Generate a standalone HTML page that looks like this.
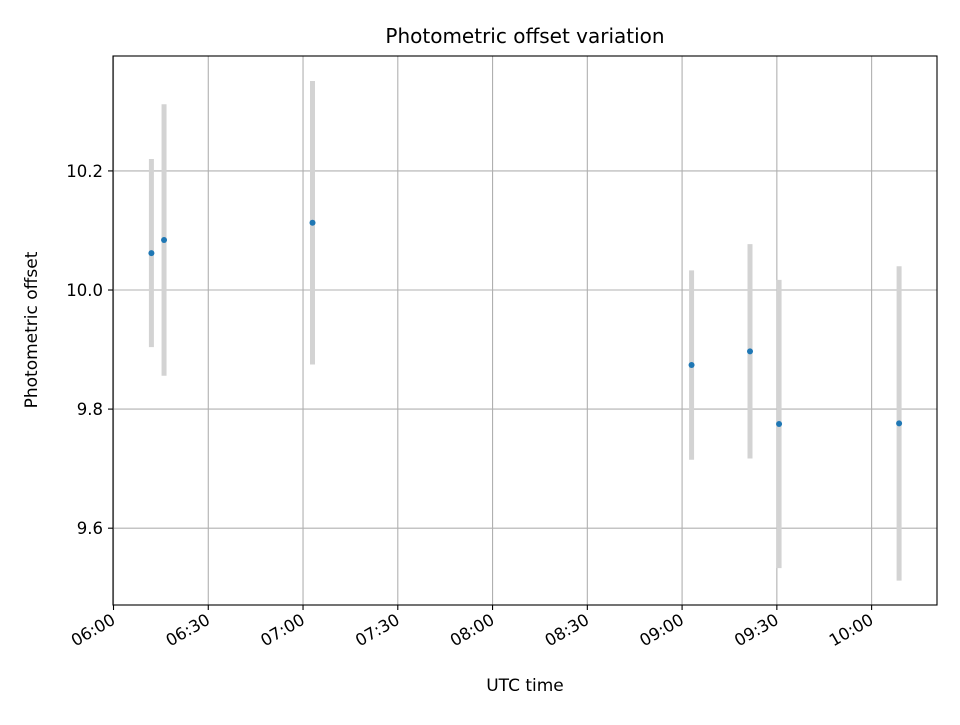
<!DOCTYPE html>
<html><head><meta charset="utf-8"><style>
body{margin:0;background:#fff;font-family:"Liberation Sans","DejaVu Sans",sans-serif}
</style></head><body>
<svg id="chart" width="960" height="720" xmlns="http://www.w3.org/2000/svg">
<rect width="960" height="720" fill="#fff"/>
<g id="grid"></g><g id="marks"></g><g id="axes"></g>
<text x="525" y="43" text-anchor="middle" font-size="20" font-family="DejaVu Sans, sans-serif">Photometric offset variation</text>
<text x="525" y="691" text-anchor="middle" font-size="17" font-family="DejaVu Sans, sans-serif">UTC time</text>
<text transform="translate(37,330) rotate(-90)" text-anchor="middle" font-size="17" font-family="DejaVu Sans, sans-serif">Photometric offset</text>
</svg>
<script>
// minutes after 06:00
const times=[12,16,63,183,201.5,210.7,248.7];
const offsets=[10.062,10.084,10.113,9.874,9.897,9.775,9.776];
const errors=[0.158,0.228,0.238,0.159,0.18,0.242,0.264];
const xTickLabels=["06:00","06:30","07:00","07:30","08:00","08:30","09:00","09:30","10:00"];
const xTickValues=[0,30,60,90,120,150,180,210,240];
const yTickValues=[9.6,9.8,10.0,10.2];
const yTickLabels=["9.6","9.8","10.0","10.2"];

const L=113,R=937,T=56,B=605;
const xMin=-0.16,xMax=260.7,yMin=9.471,yMax=10.393;
const xs=v=>L+(v-xMin)/(xMax-xMin)*(R-L);
const ys=v=>B-(v-yMin)/(yMax-yMin)*(B-T);
const NS="http://www.w3.org/2000/svg";
function mk(tag,parent,attrs){const e=document.createElementNS(NS,tag);for(const k in attrs)e.setAttribute(k,attrs[k]);document.getElementById(parent).appendChild(e);return e;}

xTickValues.forEach((v,i)=>{
  const x=xs(v);
  const g=mk('line','grid',{x1:x,x2:x,y1:T,y2:B,stroke:'#b0b0b0','stroke-width':1.1});
  
  
  const t=mk('line','axes',{x1:x,x2:x,y1:B,y2:B+5,stroke:'#000','stroke-width':1.1});
  
  
  const lb=mk('text','axes',{transform:`translate(${x+3},${B+18}) rotate(-30)`,'text-anchor':'end','font-size':16.5,'font-family':'DejaVu Sans, sans-serif'});
  lb.textContent=xTickLabels[i];
  
  
});
yTickValues.forEach((v,i)=>{
  const y=ys(v);
  const g=mk('line','grid',{x1:L,x2:R,y1:y,y2:y,stroke:'#b0b0b0','stroke-width':1.1});
  
  
  const t=mk('line','axes',{x1:L-5,x2:L,y1:y,y2:y,stroke:'#000','stroke-width':1.1});
  
  
  const lb=mk('text','axes',{x:L-10,y:y+6,'text-anchor':'end','font-size':16.5,'font-family':'DejaVu Sans, sans-serif'});
  lb.textContent=yTickLabels[i];
  
  
});
times.forEach((t,i)=>{
  const x=xs(t);
  const eb=mk('line','marks',{x1:x,x2:x,y1:ys(offsets[i]+errors[i]),y2:ys(offsets[i]-errors[i]),stroke:'#d3d3d3','stroke-width':5});
  
  
});
times.forEach((t,i)=>{
  const p=mk('circle','marks',{cx:xs(t),cy:ys(offsets[i]),r:3,fill:'#1f77b4'});
  
  
});
const fr=mk('rect','axes',{x:L,y:T,width:R-L,height:B-T,fill:'none',stroke:'#000','stroke-width':1.1});


</script>
</body></html>
